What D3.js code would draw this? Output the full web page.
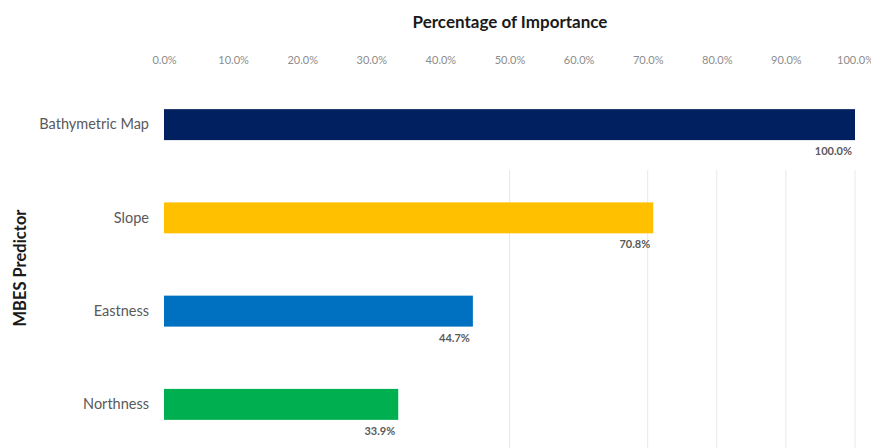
<!DOCTYPE html>
<html>
<head>
<meta charset="utf-8">
<script src="https://cdn.jsdelivr.net/npm/d3@7"></script>
<style>
  body { margin: 0; background: #fff; }
  svg { font-family: Lato, "Open Sans", sans-serif; }
</style>
</head>
<body>
<div id="chart-area"></div>
<script>
var predictors = ["Bathymetric Map", "Slope", "Eastness", "Northness"];
var importance = [100.0, 70.8, 44.7, 33.9];
var barColors = ["#002060", "#FFC000", "#0070C0", "#00B050"];
var tickValues = [0, 10, 20, 30, 40, 50, 60, 70, 80, 90, 100];
var gridValues = [50, 70, 80, 90, 100];

var width = 871;
var height = 448;

var svg = d3.select("#chart-area")
    .append("svg")
        .attr("width", width)
        .attr("height", height);

var data = predictors.map((p, i) => {
    return {name: p, value: importance[i], color: barColors[i]};
});

var x = d3.scaleLinear()
    .domain([0, 100])
    .range([164, 855]);

var y = d3.scaleBand()
    .domain(predictors)
    .range([78, 451])
    .paddingInner(0.668)
    .paddingOuter(0.334);

// faint gridlines (only the ones visible in the picture)
svg.append("g")
    .selectAll("line")
    .data(gridValues)
    .enter()
    .append("line")
        .attr("x1", (d) => x(d))
        .attr("x2", (d) => x(d))
        .attr("y1", 170)
        .attr("y2", height)
        .attr("stroke", "#e8e8e8")
        .attr("stroke-width", 1);

// top axis, labels only
var topAxis = d3.axisTop(x)
    .tickValues(tickValues)
    .tickSize(0)
    .tickFormat((d) => d.toFixed(1) + "%");

svg.append("g")
    .attr("class", "x axis")
    .attr("transform", "translate(0, 67)")
    .call(topAxis)
    .call((g) => g.select(".domain").remove())
    .selectAll("text")
        .attr("font-size", "11px")
        .attr("fill", "#8c8c8c")
        .attr("font-family", "Lato, sans-serif");

// category labels
var leftAxis = d3.axisLeft(y).tickSize(0).tickPadding(0);
svg.append("g")
    .attr("class", "y axis")
    .attr("transform", "translate(149, 0)")
    .call(leftAxis)
    .call((g) => g.select(".domain").remove())
    .selectAll("text")
        .attr("font-size", "14.5px")
        .attr("fill", "#595959")
        .attr("font-family", "Lato, sans-serif");

svg.selectAll("rect.bar")
    .data(data)
    .enter()
    .append("rect")
        .attr("class", "bar")
        .attr("x", x(0))
        .attr("y", (d) => y(d.name))
        .attr("width", (d) => x(d.value) - x(0))
        .attr("height", y.bandwidth())
        .attr("fill", (d) => d.color);

svg.selectAll("text.val")
    .data(data)
    .enter()
    .append("text")
        .attr("class", "val")
        .attr("x", (d) => x(d.value) - 3)
        .attr("y", (d) => y(d.name) + y.bandwidth() + 15)
        .attr("text-anchor", "end")
        .attr("font-size", "11px")
        .attr("font-weight", "bold")
        .attr("fill", "#595959")
        .text((d) => d.value.toFixed(1) + "%");

svg.append("text")
    .attr("x", 510)
    .attr("y", 28)
    .attr("text-anchor", "middle")
    .attr("font-size", "17px")
    .attr("font-weight", "bold")
    .attr("fill", "#1a1a1a")
    .text("Percentage of Importance");

svg.append("text")
    .attr("transform", "translate(26, 268) rotate(-90)")
    .attr("text-anchor", "middle")
    .attr("font-size", "16.5px")
    .attr("font-weight", "bold")
    .attr("fill", "#1a1a1a")
    .text("MBES Predictor");
</script>
</body>
</html>
